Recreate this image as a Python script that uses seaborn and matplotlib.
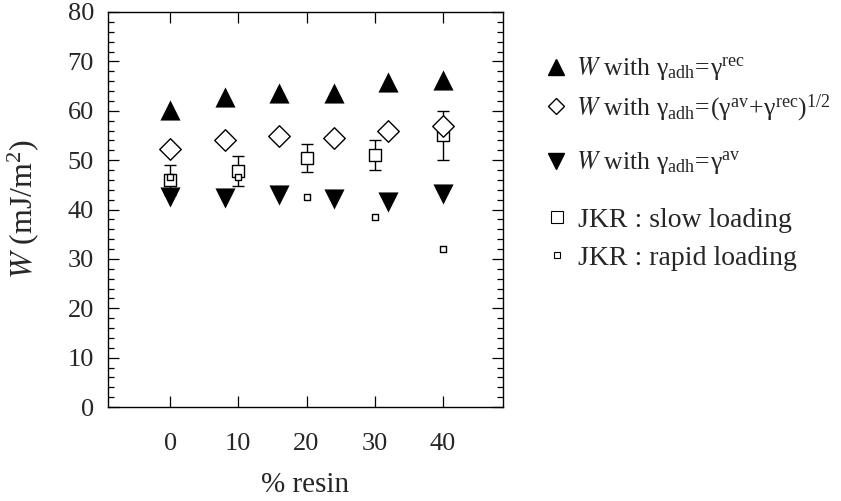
import matplotlib
matplotlib.use("Agg")
import matplotlib.pyplot as plt
from matplotlib.lines import Line2D
from matplotlib.ticker import MultipleLocator
import seaborn as sns
import pandas as pd

# ---- data ----
x_model = [0, 8, 16, 24, 32, 40]
w_rec = [60.1, 62.8, 63.6, 63.5, 65.8, 66.3]
w_geo = [52.2, 54.0, 54.9, 54.5, 55.9, 56.9]
w_av = [42.6, 42.3, 42.9, 42.1, 41.6, 43.1]

x_jkr = [0, 10, 20, 30, 40]
w_slow = [46.0, 47.8, 50.4, 51.0, 55.0]
w_slow_err = [3.0, 3.0, 2.9, 3.0, 5.0]
w_rapid = [46.5, 46.5, 42.6, 38.5, 31.9]

xticks = [0, 10, 20, 30, 40]
yticks = [0, 10, 20, 30, 40, 50, 60, 70, 80]

labels = [
    r"$W$ with $\mathregular{\gamma_{adh}\!=\!\gamma^{rec}}$",
    r"$W$ with $\mathregular{\gamma_{adh}\!=\!(\gamma^{av}\!+\!\gamma^{rec})^{1/2}}$",
    r"$W$ with $\mathregular{\gamma_{adh}\!=\!\gamma^{av}}$",
    "JKR : slow loading",
    "JKR : rapid loading",
]

sns.set_style("ticks")
plt.rcParams["font.family"] = ["Liberation Serif", "DejaVu Serif"]
plt.rcParams["mathtext.fontset"] = "stix"

fig = plt.figure(figsize=(8.41, 5.01), dpi=100)
ax = fig.add_axes([108 / 841, 1 - 407 / 501, (503 - 108) / 841, (407 - 12) / 501])

df_m = pd.DataFrame({"x": x_model, "rec": w_rec, "geo": w_geo, "av": w_av})
df_j = pd.DataFrame({"x": x_jkr, "slow": w_slow, "err": w_slow_err, "rapid": w_rapid})

ax.errorbar(df_j["x"], df_j["slow"], yerr=df_j["err"], fmt="none", ecolor="black",
            elinewidth=1.0, capsize=4, capthick=1.0, zorder=1)
sns.scatterplot(data=df_j, x="x", y="slow", marker="s", s=85, facecolor="white",
                edgecolor="black", linewidth=1.0, ax=ax, zorder=2)
sns.scatterplot(data=df_j, x="x", y="rapid", marker="s", s=20, facecolor="white",
                edgecolor="black", linewidth=1.0, ax=ax, zorder=4)
sns.scatterplot(data=df_m, x="x", y="rec", marker="^", s=210, color="black",
                edgecolor="black", linewidth=0, ax=ax, zorder=3)
sns.scatterplot(data=df_m, x="x", y="geo", marker="D", s=120, facecolor="white",
                edgecolor="black", linewidth=1.0, ax=ax, zorder=3)
sns.scatterplot(data=df_m, x="x", y="av", marker="v", s=210, color="black",
                edgecolor="black", linewidth=0, ax=ax, zorder=3)

ax.set_xlim(-9.1, 48.8)
ax.set_ylim(0, 80)
ax.set_xticks(xticks)
ax.set_yticks(yticks)
ax.yaxis.set_minor_locator(MultipleLocator(2))
ax.tick_params(which="both", direction="in", top=True, right=True, labelsize=19,
               width=0.9, color="black")
ax.tick_params(axis="x", which="major", length=8, pad=19)
ax.tick_params(axis="y", which="major", length=8, pad=10)
ax.tick_params(which="minor", length=4)
for s in ax.spines.values():
    s.set_linewidth(1.0)
    s.set_color("black")

ax.set_xlabel("% resin", fontsize=21, labelpad=12)
ax.set_ylabel(r"$W$ (mJ/m$\mathregular{^2}$)", fontsize=23, labelpad=19)

handles = [
    Line2D([], [], ls="", marker="^", ms=11, mfc="black", mec="black"),
    Line2D([], [], ls="", marker="D", ms=8, mfc="white", mec="black", mew=1),
    Line2D([], [], ls="", marker="v", ms=11, mfc="black", mec="black"),
    Line2D([], [], ls="", marker="s", ms=9, mfc="white", mec="black", mew=0.8),
    Line2D([], [], ls="", marker="s", ms=4.5, mfc="white", mec="black", mew=0.8),
]
row_y = [69, 108, 163, 220, 258]
row_fs = [18.5, 18.5, 18.5, 20, 20]
for h, lab, yy, fs in zip(handles, labels, row_y, row_fs):
    fig.legend([h], [lab], loc="center left", bbox_to_anchor=(546 / 841, 1 - yy / 501),
               frameon=False, fontsize=fs, handlelength=0.8, handletextpad=0.35,
               borderaxespad=0, borderpad=0)

fig.savefig("out.png", dpi=100)
